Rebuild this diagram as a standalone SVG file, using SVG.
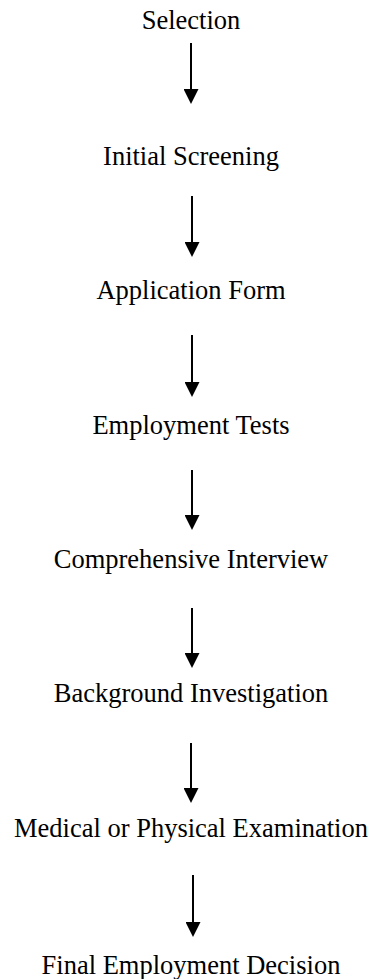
<svg xmlns="http://www.w3.org/2000/svg" width="371" height="979" viewBox="0 0 371 979">
<style>
.lbl{font-size:26.5px;fill:#000;text-anchor:middle}
.arr{stroke:#000;stroke-width:2;fill:none;marker-end:url(#ah)}
</style>
<defs>
<marker id="ah" viewBox="0 0 15 15" refX="0" refY="7.5" markerWidth="15" markerHeight="15" markerUnits="userSpaceOnUse" orient="auto">
<path d="M0,0 L15,7.5 L0,15 z" fill="#000"/>
</marker>
</defs>
<rect width="371" height="979" fill="#fff"/>
<g font-family="'Liberation Serif', 'DejaVu Serif', serif">
<g id="n1"><text class="lbl" x="191" y="29">Selection</text></g>
<g id="n2"><text class="lbl" x="191" y="165">Initial Screening</text></g>
<g id="n3"><text class="lbl" x="191" y="299">Application Form</text></g>
<g id="n4"><text class="lbl" x="191" y="434">Employment Tests</text></g>
<g id="n5"><text class="lbl" x="191" y="568">Comprehensive Interview</text></g>
<g id="n6"><text class="lbl" x="191" y="702">Background Investigation</text></g>
<g id="n7"><text class="lbl" x="191" y="837">Medical or Physical Examination</text></g>
<g id="n8"><text class="lbl" x="191" y="974">Final Employment Decision</text></g>
</g>
<g id="connectors">
<line class="arr" x1="191" y1="43" x2="191" y2="89"/>
<line class="arr" x1="192" y1="196" x2="192" y2="242"/>
<line class="arr" x1="192" y1="335" x2="192" y2="382"/>
<line class="arr" x1="192" y1="470" x2="192" y2="515"/>
<line class="arr" x1="192" y1="608" x2="192" y2="653"/>
<line class="arr" x1="191" y1="743" x2="191" y2="788"/>
<line class="arr" x1="193" y1="875" x2="193" y2="922"/>
</g>
</svg>
